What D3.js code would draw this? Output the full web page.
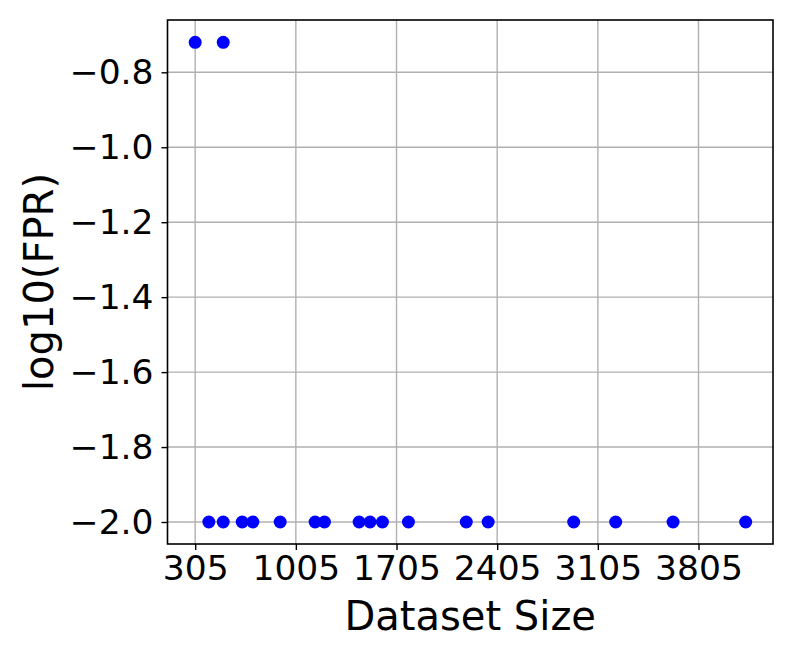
<!DOCTYPE html>
<html><head><meta charset="utf-8">
<script src="https://cdn.jsdelivr.net/npm/d3@7"></script>
<style>body{margin:0;background:#fff}svg{display:block}text{font-family:"DejaVu Sans",sans-serif}</style>
</head><body><svg id="c" width="793" height="661"></svg>
<script>
const datasetSize = [305, 500, 400, 500, 632, 706, 896, 1139, 1204, 1445, 1521, 1607, 1788, 2190, 2342, 2937, 3229, 3628, 4133];
const log10FPR   = [-0.72, -0.72, -2, -2, -2, -2, -2, -2, -2, -2, -2, -2, -2, -2, -2, -2, -2, -2, -2];
const xTicks = [305, 1005, 1705, 2405, 3105, 3805];
const yTicks = [-0.8, -1.0, -1.2, -1.4, -1.6, -1.8, -2.0];

const m = {left:167.5, top:20, right:773, bottom:544};
const svg = d3.select("#c");
const x = d3.scaleLinear().domain([112.5, 4323]).range([m.left, m.right]);
const y = d3.scaleLinear().domain([-2.0587, -0.6604]).range([m.bottom, m.top]);

const g = svg.append("g");
// grid
g.selectAll(".gx").data(xTicks).enter().append("line")
  .attr("x1", d=>x(d)).attr("x2", d=>x(d)).attr("y1", m.top).attr("y2", m.bottom)
  .attr("stroke", "#b0b0b0").attr("stroke-width", 1.4);
g.selectAll(".gy").data(yTicks).enter().append("line")
  .attr("y1", d=>y(d)).attr("y2", d=>y(d)).attr("x1", m.left).attr("x2", m.right)
  .attr("stroke", "#b0b0b0").attr("stroke-width", 1.4);

// points
g.selectAll("circle").data(datasetSize.map((d,i)=>[d, log10FPR[i]])).enter().append("circle")
  .attr("cx", d=>x(d[0])).attr("cy", d=>y(d[1])).attr("r", 6.5).attr("fill", "#0000ff");

// axes
const fmt = d => d3.format(".1f")(d).replace("-", "\u2212");
const xAxis = d3.axisBottom(x).tickValues(xTicks).tickSize(6).tickPadding(6).tickFormat(d=>d);
const yAxis = d3.axisLeft(y).tickValues(yTicks).tickSize(6).tickPadding(8).tickFormat(fmt);
const gx = svg.append("g").attr("transform", `translate(0,${m.bottom})`).call(xAxis);
const gy = svg.append("g").attr("transform", `translate(${m.left},0)`).call(yAxis);
[gx, gy].forEach(a => {
  a.select(".domain").remove();
  a.selectAll(".tick line").attr("stroke", "#000").attr("stroke-width", 1.4);
  a.selectAll(".tick text").attr("font-size", 34.5).attr("fill", "#000").attr("font-family", "DejaVu Sans");
});

// frame
svg.append("rect").attr("x", m.left).attr("y", m.top).attr("width", m.right-m.left).attr("height", m.bottom-m.top)
  .attr("fill", "none").attr("stroke", "#000").attr("stroke-width", 1.6);

// labels
svg.append("text").attr("x", (m.left+m.right)/2).attr("y", 630).attr("text-anchor", "middle")
  .attr("font-size", 40).text("Dataset Size");
svg.append("text").attr("transform", `translate(53,${(m.top+m.bottom)/2}) rotate(-90)`).attr("text-anchor", "middle")
  .attr("font-size", 40).text("log10(FPR)");
</script></body></html>
